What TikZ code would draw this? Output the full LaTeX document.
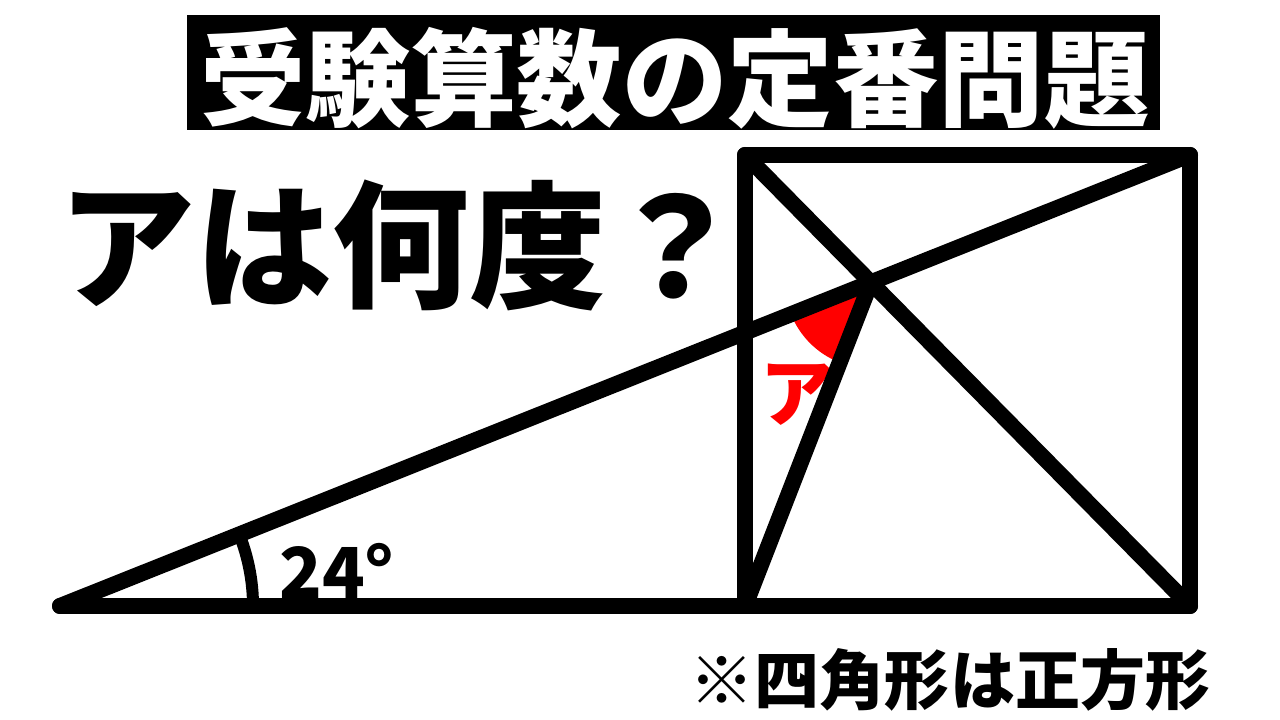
\documentclass[tikz,border=0pt]{standalone}
\usepackage{fontspec}
\setmainfont{Noto Sans CJK JP}
\usepackage{tikz}
\usepackage{xcolor}
\usetikzlibrary{calc, positioning}
\newcommand{\jpbig}[0]{\fontsize{39pt}{42pt}\selectfont\bfseries}

\begin{document}
\begin{tikzpicture}[thick line/.style={line width=0.16cm, line cap=round, line join=round},
                        label text/.style={inner sep=0pt, font=\bfseries}]
                        \useasboundingbox (0, 0) rectangle (12.8, 7.2);
                        % figure corners
                        \coordinate (0) at (0.60, 1.14);
                        \coordinate (1) at (7.45, 1.14);
                        \coordinate (2) at (11.90, 1.14);
                        \coordinate (3) at (11.90, 5.65);
                        \coordinate (4) at (7.45, 5.65);
                        \coordinate (5) at (intersection of 0--3 and 4--2);
                        % title
                        \fill (1.87, 5.90) rectangle (11.60, 7.05);
                        \node[label text, text=white, font=\fontsize{30pt}{33pt}\selectfont\bfseries] (t) at (6.75, 6.42) {受験算数の定番問題};
                        \node[label text, anchor=west, font=\jpbig] (q) at (0.58, 4.75) {アは何度？};
                        % angles
                        \fill[red] (5) -- ++(201.5:0.86) arc[start angle=201.5, end angle=248.3, radius=0.86] -- cycle;
                        \draw[line width=0.12cm] (0) ++(1.93, 0) arc[start angle=0, end angle=21.8, radius=1.93];
                        \node[label text, font=\fontsize{20pt}{24pt}\selectfont\bfseries] (a) at (3.37, 1.49) {24°};
                        \node[label text, text=red, font=\fontsize{21pt}{24pt}\selectfont\bfseries] (b) at (7.97, 3.25) {ア};
                        % lines
                        \draw[thick line]
                        (0) -- (2)
                        (1) -- (4) -- (3) -- (2)
                        (0) edge (3)
                        (4) edge (2)
                        (1) edge (5);
                        \node[label text, font=\fontsize{18.5pt}{22pt}\selectfont\bfseries] (n) at (9.50, 0.40) {※四角形は正方形};
                    \end{tikzpicture}
\end{document}
